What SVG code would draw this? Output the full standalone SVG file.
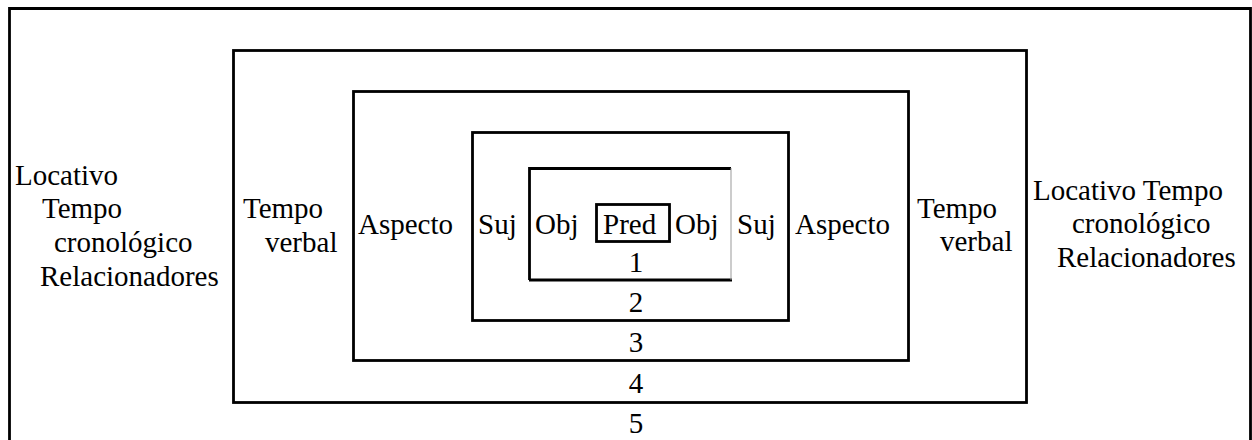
<svg xmlns="http://www.w3.org/2000/svg" width="1252" height="440" viewBox="0 0 1252 440">
<style>
  .box { fill: none; stroke: #000; stroke-width: 2.8; }
  text { font-family: "Liberation Serif", "Times New Roman", serif; font-size: 29px; fill: #000; }
  .num { text-anchor: middle; }
</style>
<rect width="1252" height="440" fill="#fff"/>
<g id="level5">
  <path class="box" d="M9.5,445 V8.5 H1250.5 V445"/>
  <text x="15" y="185">Locativo</text>
  <text x="42" y="218">Tempo</text>
  <text x="54" y="252">cronológico</text>
  <text x="40" y="286">Relacionadores</text>
  <text x="1033" y="200">Locativo Tempo</text>
  <text x="1072" y="233">cronológico</text>
  <text x="1057" y="267">Relacionadores</text>
  <text class="num" x="636" y="433">5</text>
</g>
<g id="level4">
  <rect class="box" x="233.5" y="50.5" width="793" height="352"/>
  <text x="243" y="218">Tempo</text>
  <text x="265" y="252">verbal</text>
  <text x="917" y="218">Tempo</text>
  <text x="940" y="251">verbal</text>
  <text class="num" x="636" y="393">4</text>
</g>
<g id="level3">
  <rect class="box" x="353.5" y="91.5" width="555" height="269"/>
  <text x="358" y="234">Aspecto</text>
  <text x="795" y="234">Aspecto</text>
  <text class="num" x="636" y="352">3</text>
</g>
<g id="level2">
  <rect class="box" x="472.5" y="132.5" width="316" height="188"/>
  <text x="478" y="234">Suj</text>
  <text x="737" y="234">Suj</text>
  <text class="num" x="636" y="312">2</text>
</g>
<g id="level1">
  <path class="box" d="M731,168.5 H529.5 V280"/>
  <path d="M529,280 H732" stroke="#000" stroke-width="3.2" fill="none"/>
  <path d="M731,168 V280" stroke="#999" stroke-width="1" fill="none"/>
  <text x="535" y="234">Obj</text>
  <text x="675" y="234">Obj</text>
  <text class="num" x="636" y="272">1</text>
</g>
<g id="pred">
  <rect class="box" x="596.5" y="204.5" width="73" height="37"/>
  <text x="603" y="234">Pred</text>
</g>
<g id="connectors"/>
</svg>
